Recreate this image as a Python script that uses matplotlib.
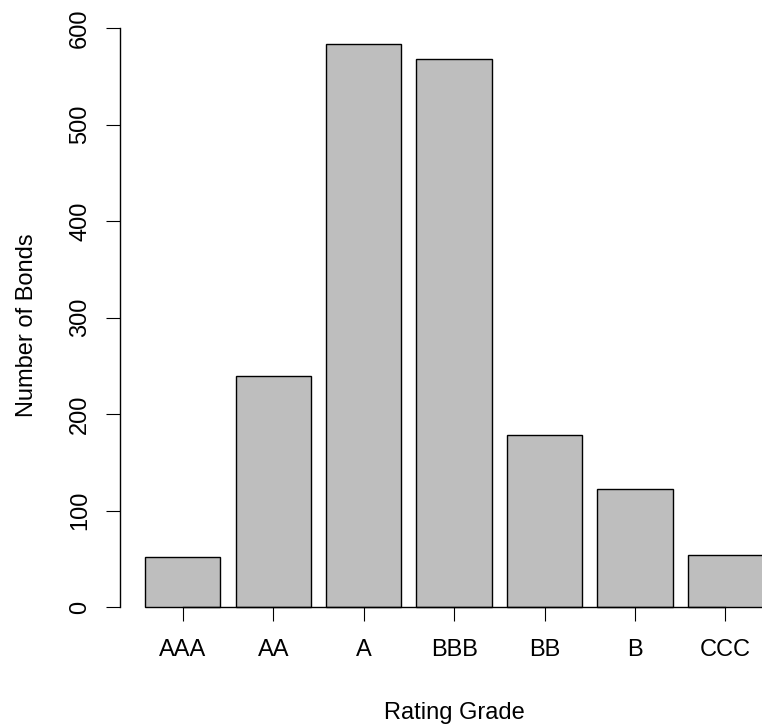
import numpy as np
from matplotlib import pyplot as plt

plt.rcParams['font.family'] = ['Liberation Sans', 'DejaVu Sans']

# --- data ---
grades = ['AAA', 'AA', 'A', 'BBB', 'BB', 'B', 'CCC']
counts = [52, 240, 584, 568, 179, 123, 54]
y_ticks = [0, 100, 200, 300, 400, 500, 600]

# R barplot style positions: width 1, space 0.2
n = len(grades)
left = 0.2 + 1.2 * np.arange(n)
centers = left + 0.5

fig = plt.figure(figsize=(7.62, 7.24), dpi=100)
ax = fig.add_axes([0.158, 0.130, 0.876, 0.841])

ax.bar(centers, counts, width=1.0, color='#BEBEBE', edgecolor='black', linewidth=1.0)

# axis ranges like R (4% extension)
xr = left[-1] + 1.0 - left[0]
ax.set_xlim(left[0] - 0.04 * xr, left[-1] + 1.0 + 0.04 * xr)
ax.set_ylim(-0.04 * max(counts), 1.04 * max(counts))

for s in ['top', 'right']:
    ax.spines[s].set_visible(False)
ax.spines['left'].set_bounds(y_ticks[0], y_ticks[-1])
ax.spines['bottom'].set_position(('data', 0))
ax.spines['bottom'].set_bounds(centers[0], centers[-1])
ax.spines['left'].set_linewidth(1.0)
ax.spines['bottom'].set_linewidth(1.0)

ax.set_yticks(y_ticks)
ax.set_xticks(centers)
ax.set_xticklabels(grades)
ax.tick_params(axis='both', direction='out', length=10, width=0.8, labelsize=17)
ax.tick_params(axis='x', pad=13)
ax.tick_params(axis='y', pad=11, labelrotation=90)
for lab in ax.get_yticklabels():
    lab.set_va('center')

ax.set_xlabel('Rating Grade', fontsize=17, va='baseline')
ax.xaxis.set_label_coords(0.5, -0.146)
ax.set_ylabel('Number of Bonds', fontsize=17, va='baseline')
ax.yaxis.set_label_coords(-0.1309, 0.5)

plt.savefig('out.png', dpi=100)
